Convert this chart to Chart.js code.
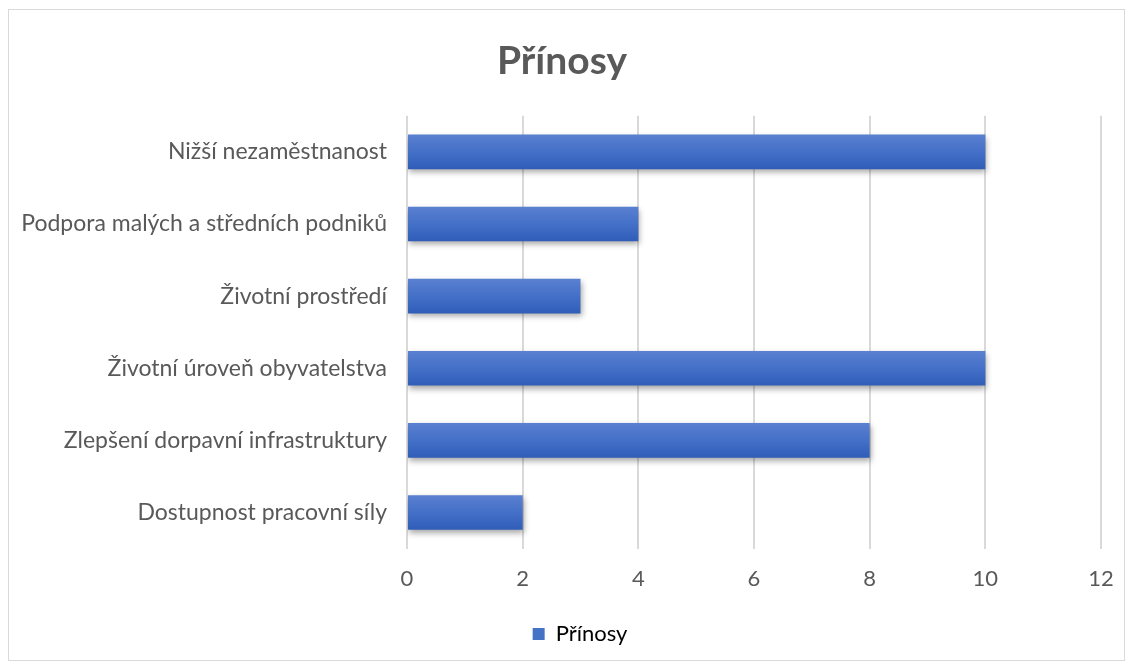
<!DOCTYPE html>
<html>
<head>
<meta charset="utf-8">
<script src="https://cdn.jsdelivr.net/npm/chart.js@4"></script>
<style>
  body { margin: 0; background: #fff; }
  #box { position: absolute; left: 8px; top: 9px; width: 1115px; height: 650px; border: 1px solid #d9d9d9; }
  canvas { display: block; }
</style>
</head>
<body>
<div id="box"><canvas id="chart" width="1115" height="650"></canvas></div>
<script>
const categories = [
  'Nižší nezaměstnanost',
  'Podpora malých a středních podniků',
  'Životní prostředí',
  'Životní úroveň obyvatelstva',
  'Zlepšení dorpavní infrastruktury',
  'Dostupnost pracovní síly'
];
const values = [10, 4, 3, 10, 8, 2];
const seriesName = 'Přínosy';
const xMin = 0, xMax = 12, xStep = 2;

const FONT = 'Lato, "Open Sans", sans-serif';
const GREY = '#595959';

// stín pod sloupci
const shadowPlugin = {
  id: 'shadow',
  beforeDatasetsDraw(chart) {
    const c = chart.ctx;
    c.save();
    c.shadowColor = 'rgba(0,0,0,0.35)';
    c.shadowBlur = 6;
    c.shadowOffsetY = 3;
    c.shadowOffsetX = 1;
  },
  afterDatasetsDraw(chart) {
    chart.ctx.restore();
  }
};

// legenda je v originále trochu vpravo od středu
const legendShift = {
  id: 'legendShift',
  afterLayout(chart) {
    if (chart.legend) {
      chart.legend.left += 18;
      chart.legend.right += 18;
    }
  }
};

function barFill(context) {
  const chart = context.chart;
  const y = chart.scales.y;
  if (!chart.chartArea || !y || context.dataIndex === undefined) return '#4472c4';
  const center = y.getPixelForTick(context.dataIndex);
  const half = (chart.chartArea.height / categories.length) * 0.48 / 2;
  const g = chart.ctx.createLinearGradient(0, center - half, 0, center + half);
  g.addColorStop(0, '#5a80d0');
  g.addColorStop(0.5, '#4470c8');
  g.addColorStop(1, '#2f5db8');
  return g;
}

const ctx = document.getElementById('chart').getContext('2d');
new Chart(ctx, {
  type: 'bar',
  data: {
    labels: categories,
    datasets: [{
      label: seriesName,
      data: values,
      backgroundColor: barFill,
      borderWidth: 0,
      barPercentage: 0.48,
      categoryPercentage: 1
    }]
  },
  plugins: [shadowPlugin, legendShift],
  options: {
    indexAxis: 'y',
    responsive: false,
    animation: false,
    layout: { padding: { left: 14, right: 23, top: 0, bottom: 5 } },
    plugins: {
      title: {
        display: true,
        text: 'Přínosy',
        color: GREY,
        font: { family: FONT, size: 39, weight: 'bold' },
        padding: { top: 28, bottom: 31 }
      },
      legend: {
        position: 'bottom',
        labels: {
          color: GREY,
          font: { family: FONT, size: 22 },
          boxWidth: 12,
          boxHeight: 12,
          padding: 14,
          generateLabels: () => [{ text: seriesName, fillStyle: '#4472c4', strokeStyle: '#4472c4', lineWidth: 0, datasetIndex: 0 }]
        }
      },
      tooltip: { enabled: false }
    },
    scales: {
      x: {
        min: xMin,
        max: xMax,
        ticks: { stepSize: xStep, color: GREY, font: { family: FONT, size: 22 }, padding: 17 },
        grid: { color: '#d9d9d9', lineWidth: 2, drawTicks: false },
        border: { display: false },
        afterFit(scale) { scale.paddingLeft = 0; scale.paddingRight = 0; }
      },
      y: {
        ticks: { color: GREY, font: { family: FONT, size: 23 }, padding: 20 },
        grid: { display: false, drawTicks: false },
        border: { display: false },
        afterFit(scale) { scale.width = 384; }
      }
    }
  }
});
</script>
</body>
</html>
